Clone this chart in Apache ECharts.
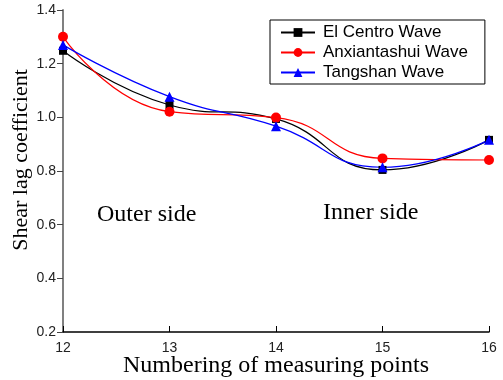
<!DOCTYPE html>
<html><head><meta charset="utf-8">
<script src="https://cdn.jsdelivr.net/npm/echarts@6/dist/echarts.min.js"></script>
<style>html,body{margin:0;padding:0;background:#fff}#c{width:503px;height:380px}</style>
</head><body><div id="c"></div>
<script>
var categories = [12, 13, 14, 15, 16];
var elCentro = [1.248, 1.046, 0.994, 0.804, 0.916];
var anxiantashui = [1.300, 1.021, 0.999, 0.847, 0.841];
var tangshan = [1.270, 1.077, 0.967, 0.814, 0.916];
var seriesNames = ['El Centro Wave', 'Anxiantashui Wave', 'Tangshan Wave'];

function pairs(v){ return categories.map(function(c,i){ return [c, v[i]]; }); }

var chart = echarts.init(document.getElementById('c'), null, {renderer:'canvas'});
var mk = function(name, data, color, symbol, size){
  return {name:name, type:'line', data:pairs(data), smooth:0.5, symbol:symbol, symbolSize:size,
    lineStyle:{color:color, width:1.2}, itemStyle:{color:color}, z: 3};
};
chart.setOption({
  animation:false,
  backgroundColor:'#fff',
  grid:{left:63, right:14, top:10, bottom:48, containLabel:false, outerBoundsMode:'none'},
  legend:{
    orient:'vertical', left:270, top:20,
    borderColor:'#000', borderWidth:1, padding:[4,17,3,10],
    itemGap:3, itemWidth:34, itemHeight:11,
    textStyle:{fontFamily:'Liberation Sans', fontSize:17, color:'#000', padding:[0,0,0,3]},
    data:seriesNames
  },
  xAxis:{type:'value', min:12, max:16, interval:1,
    axisLine:{lineStyle:{color:'#000', width:1.5}},
    axisTick:{inside:true, length:6, lineStyle:{color:'#000'}},
    axisLabel:{fontFamily:'Liberation Sans', fontSize:14, color:'#222', margin:9},
    splitLine:{show:false},
    name:'Numbering of measuring points', nameLocation:'middle', nameGap:22, nameMoveOverlap:false,
    nameTextStyle:{fontFamily:'Liberation Serif', fontSize:24, color:'#000'}
  },
  yAxis:{type:'value', min:0.2, max:1.4, interval:0.2,
    axisLine:{show:true, lineStyle:{color:'#808080', width:2}},
    axisTick:{show:true, inside:false, length:6, lineStyle:{color:'#444'}},
    axisLabel:{fontFamily:'Liberation Sans', fontSize:14, color:'#222', margin:7,
      formatter:function(v){return v.toFixed(1);}},
    splitLine:{show:false},
    name:'Shear lag coefficient', nameLocation:'middle', nameGap:31, nameMoveOverlap:false,
    nameTextStyle:{fontFamily:'Liberation Serif', fontSize:22, color:'#000', padding:[0,0,0,22]}
  },
  graphic:[
    {type:'text', left:97, top:203, style:{text:'Outer side', font:'24px "Liberation Serif"', fill:'#000'}},
    {type:'text', left:323, top:201, style:{text:'Inner side', font:'24px "Liberation Serif"', fill:'#000'}}
  ],
  series:[
    mk(seriesNames[0], elCentro, '#000', 'rect', 8),
    mk(seriesNames[1], anxiantashui, '#ff0000', 'circle', 10),
    mk(seriesNames[2], tangshan, '#0000ff', 'triangle', 10)
  ]
});
</script></body></html>
